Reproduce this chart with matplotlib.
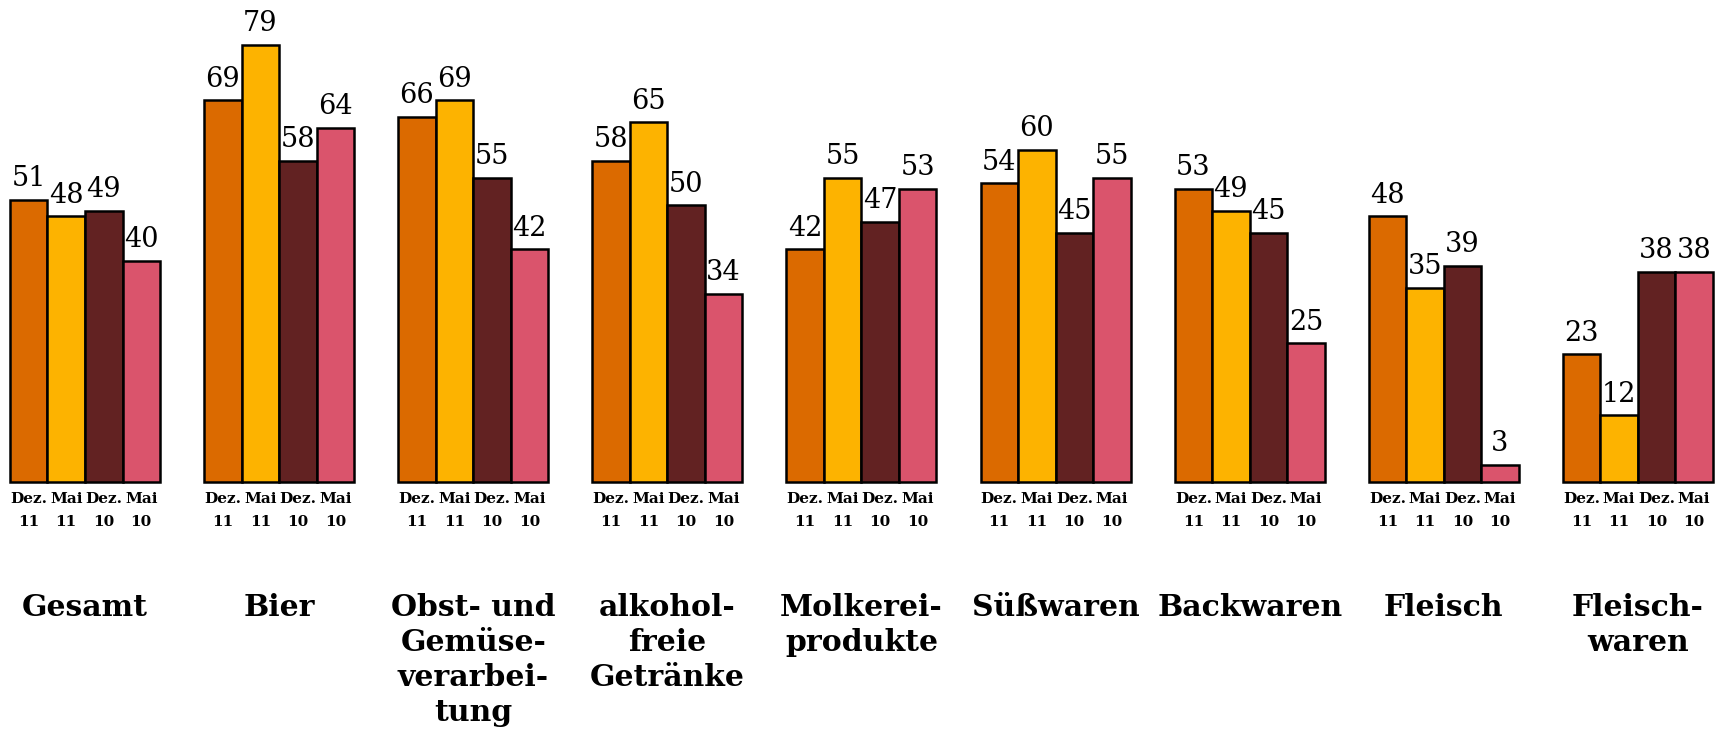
import matplotlib
matplotlib.use("Agg")
import matplotlib.pyplot as plt
import numpy as np

categories = ["Gesamt", "Bier", "Obst- und\nGemüse-\nverarbei-\ntung", "alkohol-\nfreie\nGetränke",
              "Molkerei-\nprodukte", "Süßwaren", "Backwaren", "Fleisch", "Fleisch-\nwaren"]
periods = ["Dez.\n11", "Mai\n11", "Dez.\n10", "Mai\n10"]
dez_11 = [51, 69, 66, 58, 42, 54, 53, 48, 23]
mai_11 = [48, 79, 69, 65, 55, 60, 49, 35, 12]
dez_10 = [49, 58, 55, 50, 47, 45, 45, 39, 38]
mai_10 = [40, 64, 42, 34, 53, 55, 25, 3, 38]

series = [dez_11, mai_11, dez_10, mai_10]
colors = ["#DB6A00", "#FDB300", "#622222", "#DA546C"]

plt.rcParams["font.family"] = ["DejaVu Serif"]

fig = plt.figure(figsize=(17.26, 7.38), dpi=100)
ax = fig.add_axes([0, 0, 1, 1])
ax.set_axis_off()

px = 1 / 5.525          # data units per pixel (vertical)
ax.set_xlim(-0.4379, 8.454)
ax.set_ylim(-256.5 * px, 481.5 * px)

n = len(categories)
x = np.arange(n)
w = 37.5 / 194.1

for j, (vals, col) in enumerate(zip(series, colors)):
    xs = x + (j - 1.5) * w
    ax.bar(xs, vals, width=w, color=col, edgecolor="black", linewidth=1.8, zorder=2)
    for xi, v in zip(xs, vals):
        ax.annotate(f"{v}", (xi, v), xytext=(0, 5.5), textcoords="offset points",
                    ha="center", va="bottom", fontsize=19.5, color="black")
        top, bot = periods[j].split("\n")
        ax.text(xi, -17.5 * px, top, ha="center", va="center", fontsize=11, fontweight="bold")
        ax.text(xi, -40.5 * px, bot, ha="center", va="center", fontsize=11, fontweight="bold")

for i, name in enumerate(categories):
    ax.text(i, -112 * px, name, ha="center", va="top", fontsize=21.5, fontweight="bold",
            linespacing=1.25)

fig.savefig("out.png", dpi=100)
